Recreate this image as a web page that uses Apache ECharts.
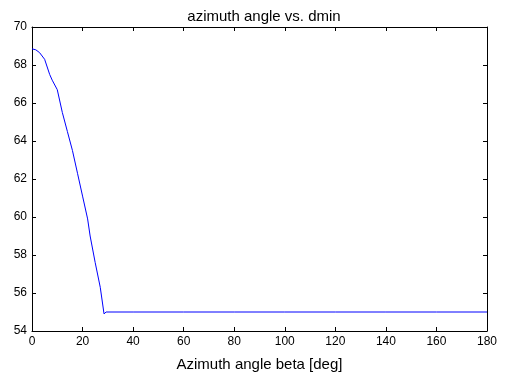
<!DOCTYPE html>
<html>
<head>
<meta charset="utf-8">
<script src="https://cdn.jsdelivr.net/npm/echarts@6/dist/echarts.min.js"></script>
<style>
  html, body { margin: 0; padding: 0; background: #fff; }
  #chart { width: 505px; height: 377px; }
</style>
</head>
<body>
<div id="chart"></div>
<script>
// azimuth angle (deg) and dmin
const azimuth = [0, 1.5, 3, 5, 7, 8, 10, 12, 14, 16, 18, 20, 22, 23, 25, 27, 28.5, 29.3, 40, 60, 80, 100, 120, 140, 160, 180]
const dmin = [68.85, 68.8, 68.65, 68.3, 67.5, 67.2, 66.7, 65.5, 64.5, 63.5, 62.3, 61.1, 59.9, 59.0, 57.6, 56.3, 54.9, 55.0, 55.0, 55.0, 55.0, 55.0, 55.0, 55.0, 55.0, 55.0]
const xTicks = [0, 20, 40, 60, 80, 100, 120, 140, 160, 180]
const yTicks = [54, 56, 58, 60, 62, 64, 66, 68, 70]

const font = 'Liberation Sans, Arial, sans-serif'
const chart = echarts.init(document.getElementById('chart'), null, { width: 505, height: 377 })

const axisCommon = {
  axisLine: { show: true, onZero: false, lineStyle: { color: '#000', width: 1 } },
  axisTick: { show: true, inside: true, length: 4, lineStyle: { color: '#000' } },
  splitLine: { show: false }
}

chart.setOption({
  animation: false,
  backgroundColor: '#fff',
  title: {
    text: 'azimuth angle vs. dmin',
    left: 259, top: 4, textAlign: 'center',
    textStyle: { fontFamily: font, fontSize: 15, fontWeight: 'normal', color: '#000' }
  },
  grid: { left: 32, right: 18, top: 27, bottom: 40 },
  xAxis: [
    {
      ...axisCommon,
      type: 'value', position: 'bottom',
      min: xTicks[0], max: xTicks[xTicks.length - 1], interval: 20,
      name: 'Azimuth angle beta [deg]', nameLocation: 'middle', nameGap: 26,
      nameTextStyle: { fontFamily: font, fontSize: 15, color: '#000' },
      axisLabel: { fontFamily: font, fontSize: 12, color: '#000', margin: 5 }
    },
    {
      ...axisCommon,
      type: 'value', position: 'top',
      min: xTicks[0], max: xTicks[xTicks.length - 1], interval: 20,
      axisLabel: { show: false }
    }
  ],
  yAxis: [
    {
      ...axisCommon,
      type: 'value', position: 'left',
      min: yTicks[0], max: yTicks[yTicks.length - 1], interval: 2,
      axisLabel: { fontFamily: font, fontSize: 12, color: '#000', margin: 5 }
    },
    {
      ...axisCommon,
      type: 'value', position: 'right',
      min: yTicks[0], max: yTicks[yTicks.length - 1], interval: 2,
      axisLabel: { show: false }
    }
  ],
  series: [
    {
      type: 'line',
      xAxisIndex: 0, yAxisIndex: 0,
      data: azimuth.map((a, i) => [a, dmin[i]]),
      symbol: 'none',
      lineStyle: { color: '#0000ff', width: 1 }
    }
  ]
})
</script>
</body>
</html>
